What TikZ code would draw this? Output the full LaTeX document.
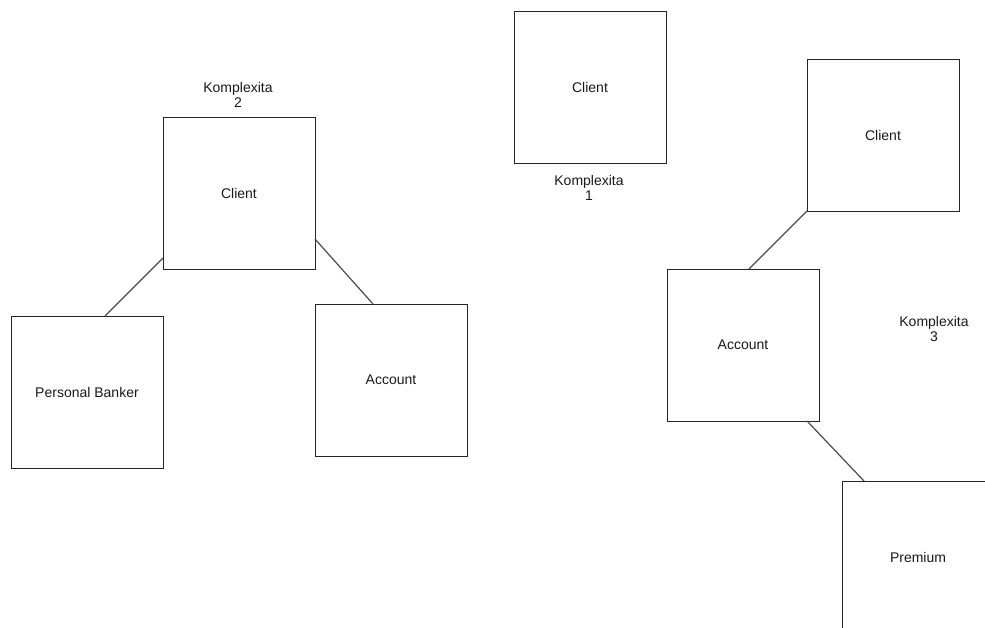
\documentclass[tikz,border=0pt]{standalone}
\usepackage{fontspec}
\setmainfont{Liberation Sans}
\usetikzlibrary{calc}
\begin{document}
\begin{tikzpicture}[x=0.75pt,y=-0.75pt,
  box/.style={draw=black!85,line width=0.75pt,minimum width=114pt,minimum height=114pt,inner sep=0pt,outer sep=0pt,font=\fontsize{10.5}{12}\selectfont,text=black!90},
  conn/.style={draw=black!70,line width=0.9pt},
  lbl/.style={align=center,font=\fontsize{10.5}{11.3}\selectfont,text=black!90,inner sep=0pt}]
\clip (0,0) rectangle (985,628);
\fill[white] (0,0) rectangle (985,628);
\node[box] (c1) at (590,87) {Client};
\node[box] (c2) at (239,193) {Client};
\node[box] (pb) at (87,392) {Personal Banker};
\node[box] (a1) at (391,380) {Account};
\node[box] (c3) at (883,135) {Client};
\node[box] (a2) at (743,345) {Account};
\node[box] (pr) at (918,557) {Premium};
\node[lbl] (k2) at (238,95) {Komplexita\\2};
\node[lbl] (k1) at (589,188) {Komplexita\\1};
\node[lbl] (k3) at (934,329) {Komplexita\\3};
\coordinate (p1) at ($(c2.south west)+(0,-11)$);
\coordinate (p2) at ($(pb.north west)+(94,0)$);
\coordinate (p3) at ($(c2.north east)+(0,122)$);
\coordinate (p4) at ($(a1.north west)+(58,0)$);
\coordinate (p5) at ($(a2.north west)+(82,0)$);
\coordinate (p6) at ($(a2.south east)+(-12,0)$);
\coordinate (p7) at ($(pr.north west)+(22,0)$);
\draw[conn] (p1) -- (p2);
\draw[conn] (p3) -- (p4);
\draw[conn] (c3.south west) -- (p5);
\draw[conn] (p6) -- (p7);
\end{tikzpicture}
\end{document}
